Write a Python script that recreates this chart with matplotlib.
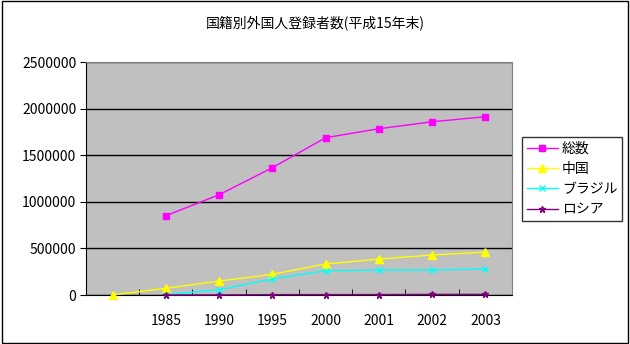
import matplotlib
matplotlib.use('Agg')
import matplotlib.pyplot as plt
from matplotlib.ticker import FixedLocator

plt.rcParams['font.family'] = ['Noto Sans CJK JP', 'DejaVu Sans']

# === Daten ===
titel = '国籍別外国人登録者数(平成15年末)'
kategorien = ['', '1985', '1990', '1995', '2000', '2001', '2002', '2003']
soukei = [None, 851000, 1076000, 1366000, 1688000, 1784000, 1859000, 1913000]
chugoku = [0, 72000, 150000, 222000, 333000, 386000, 429000, 461000]
brazil = [None, 2000, 57000, 172000, 261000, 268000, 268000, 279000]
russia = [None, 400, 800, 4000, 4500, 4900, 6700, 7000]

serien = [
    ('総数', soukei, '#FF00FF', 's', 5),
    ('中国', chugoku, '#FFFF00', '^', 6),
    ('ブラジル', brazil, '#00FFFF', 'x', 4),
    ('ロシア', russia, '#800080', '*', 5),
]

fig = plt.figure(figsize=(6.3, 3.44), dpi=100)
ax = fig.add_axes([0.1365, 0.1424, 0.6762, 0.6773])
ax.set_facecolor('#C0C0C0')

x = list(range(len(kategorien)))
for name, werte, farbe, marker, ms in serien:
    xs = [i for i, v in zip(x, werte) if v is not None]
    ys = [v for v in werte if v is not None]
    ax.plot(xs, ys, color=farbe, marker=marker, markersize=ms, lw=1,
            markeredgecolor=farbe, label=name, clip_on=False, zorder=3)

ax.set_xlim(-0.5, len(kategorien) - 0.5)
ax.set_ylim(0, 2500000)
ax.set_yticks(range(0, 2500001, 500000))
ax.set_yticklabels([str(v) for v in range(0, 2500001, 500000)], fontsize=10)
ax.yaxis.grid(True, color='black', lw=1)
ax.set_axisbelow(True)

ax.set_xticks(x)
ax.set_xticklabels(kategorien, fontsize=10)
ax.xaxis.set_minor_locator(FixedLocator([i + 0.5 for i in range(-1, len(kategorien))]))
ax.tick_params(axis='x', which='major', length=0, pad=14)
ax.tick_params(axis='x', which='minor', direction='in', length=4, color='black')
ax.tick_params(axis='y', direction='out', length=4, color='black', pad=3)

for s in ['top', 'right']:
    ax.spines[s].set_color('#808080')
for s in ['left', 'bottom']:
    ax.spines[s].set_color('black')

fig.text(0.5, 0.935, titel, ha='center', va='center', fontsize=10)

leg = fig.legend(loc='upper left', bbox_to_anchor=(0.829, 0.602), fontsize=10,
                 frameon=True, fancybox=False, edgecolor='black',
                 handlelength=2.2, borderpad=0.35, labelspacing=0.45,
                 handletextpad=0.3, borderaxespad=0)
leg.get_frame().set_linewidth(1)

# Rahmen um das ganze Bild
rahmen = plt.Rectangle((0.003, 0.004), 0.994, 0.992, transform=fig.transFigure,
                       fill=False, edgecolor='black', lw=1)
fig.patches.append(rahmen)

plt.savefig('out.png', dpi=100)
plt.close()
